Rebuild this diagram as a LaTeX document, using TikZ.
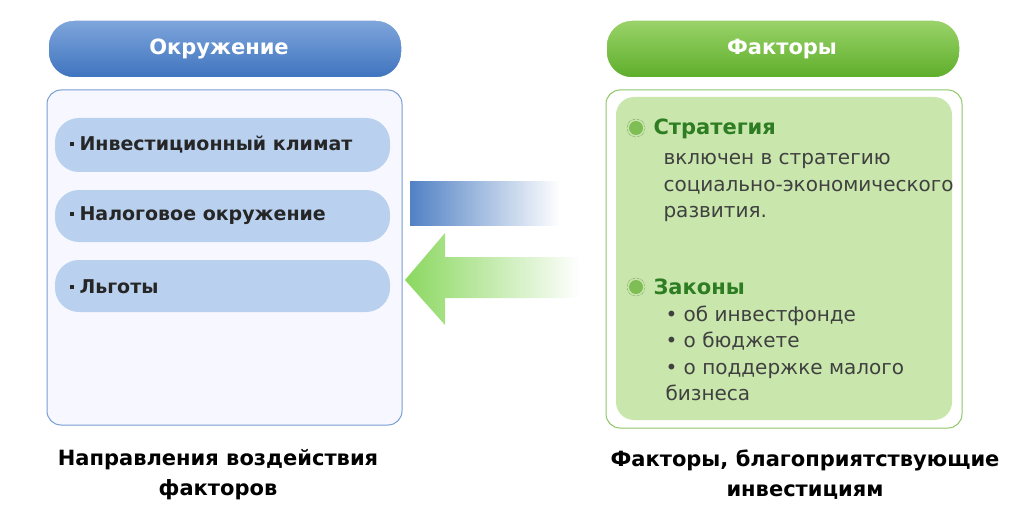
\documentclass[tikz,border=0pt]{standalone}
\usepackage{fontspec}
\setmainfont{DejaVu Sans}
\usetikzlibrary{shapes.geometric}
\definecolor{bluehd}{HTML}{3E73BE}
\definecolor{bluelt}{HTML}{7FA6DC}
\definecolor{pill}{HTML}{B9D1EF}
\definecolor{grnhd}{HTML}{5EAE2A}
\definecolor{grnlt}{HTML}{9AD36A}
\definecolor{grnfill}{HTML}{C9E7AC}
\definecolor{grntxt}{HTML}{2E7D22}
\newcommand{\sqb}{\raisebox{0.45ex}{\rule{4pt}{4pt}}\hspace{6pt}}
\tikzset{
  hdr/.style={rounded corners=26pt,draw=white,line width=1.5pt},
  pillbox/.style={rounded corners=24pt,fill=pill,draw=none},
  lbl/.style={font=\bfseries\fontsize{19}{24}\selectfont,anchor=west,text=black!85},
  body/.style={font=\fontsize{20}{26.5}\selectfont,anchor=north west,align=left,text=black!75},
  captxt/.style={font=\bfseries\fontsize{21}{30}\selectfont,align=center}
}
\begin{document}
\begin{tikzpicture}[x=1pt,y=-1pt]
\useasboundingbox (0,0) rectangle (1024,513);
% left header
\shade[hdr,top color=bluelt,bottom color=bluehd] (48,20) rectangle (402,78);
\node[font=\bfseries\fontsize{21}{24}\selectfont,text=white] (lh) at (219,49) {Окружение};
% left panel
\draw[draw=bluehd!70,fill=blue!3,rounded corners=14pt,line width=1pt] (47,90) rectangle (402,425);
\fill[pillbox] (55,118) rectangle (390,172);
\fill[pillbox] (55,190) rectangle (390,242);
\fill[pillbox] (55,260) rectangle (390,312);
\node[lbl] (l1) at (66,145) {\sqb Инвестиционный климат};
\node[lbl] (l2) at (66,216) {\sqb Налоговое окружение};
\node[lbl] (l3) at (66,287) {\sqb Льготы};
% arrows
\shade[left color=bluehd!90,right color=white] (410,181) rectangle (560,225);
\shade[left color=grnlt!90!green,right color=white] (405,280) -- (445,233) -- (445,257) -- (580,257) -- (580,298) -- (445,298) -- (445,325) -- cycle;
% right header
\shade[hdr,top color=grnlt,bottom color=grnhd] (606,20) rectangle (960,78);
\node[font=\bfseries\fontsize{21}{24}\selectfont,text=white] (rh) at (782,49) {Факторы};
% right panel
\draw[draw=grnhd!70,fill=white,rounded corners=14pt,line width=1pt] (606,90) rectangle (962,428);
\fill[grnfill,rounded corners=18pt] (616,97) rectangle (952,420);
\fill[grnhd!80] (636,128) circle (7);
\draw[grnhd!50!black,densely dotted] (636,128) circle (9);
\fill[grnhd!80] (636,287) circle (7);
\draw[grnhd!50!black,densely dotted] (636,287) circle (9);
\node[lbl,text=grntxt,font=\bfseries\fontsize{21}{24}\selectfont] (s) at (650,129) {Стратегия};
\node[body] (sb) at (660,150) {включен в стратегию\\социально-экономического\\развития.};
\node[lbl,text=grntxt,font=\bfseries\fontsize{21}{24}\selectfont] (z) at (650,287) {Законы};
\node[body] (zb) at (662,302) {\textbullet\ об инвестфонде\\\textbullet\ о бюджете\\\textbullet\ о поддержке малого\\бизнеса};
% captions
\node[captxt] (c1) at (218,475) {Направления воздействия\\факторов};
\node[captxt] (c2) at (805,475) {Факторы, благоприятствующие\\инвестициям};
\end{tikzpicture}
\end{document}
